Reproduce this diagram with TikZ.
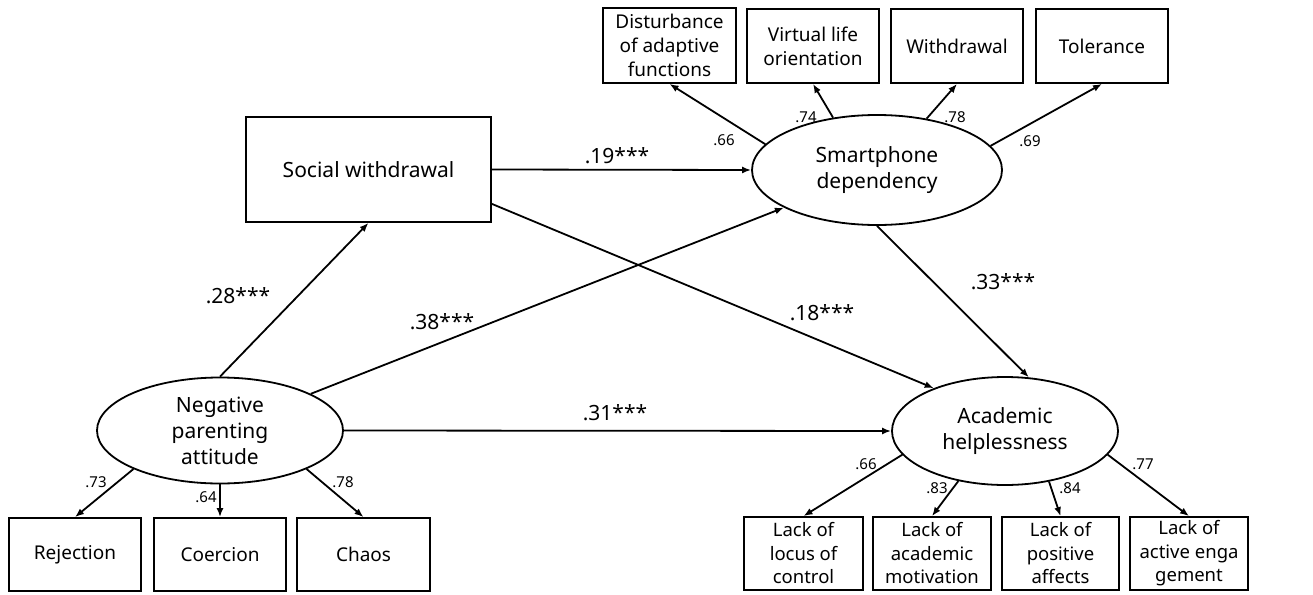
\documentclass[tikz,border=0pt]{standalone}
\usepackage{fontspec}
\setmainfont{Noto Sans}
\usetikzlibrary{arrows.meta,shapes.geometric}
\begin{document}
\begin{tikzpicture}[x=1pt,y=-1pt,
 box/.style={draw,line width=1.8pt,inner sep=0pt,align=center,font=\fontsize{19}{24}\selectfont},
 sbox/.style={box,font=\fontsize{18.5}{23.5}\selectfont},
 lat/.style={draw,ellipse,line width=1.8pt,inner sep=0pt,align=center,font=\fontsize{21}{26}\selectfont},
 arr/.style={line width=1.8pt,-{Latex[length=9pt,width=7pt]}},
 coef/.style={font=\fontsize{21}{25}\selectfont,inner sep=0pt},
 load/.style={font=\fontsize{15}{17}\selectfont,inner sep=0pt}]
\useasboundingbox[fill=white] (0,0) rectangle (1313,594);
% observed indicators, top
\node[box,minimum width=133pt,minimum height=75pt] (dis) at (669.5,45.5) {Disturbance\\of adaptive\\functions};
\node[box,minimum width=132pt,minimum height=74pt] (vir) at (813,46) {Virtual life\\orientation};
\node[box,minimum width=132pt,minimum height=74pt] (wd) at (957,46) {Withdrawal};
\node[box,minimum width=132pt,minimum height=74pt] (tol) at (1102,46) {Tolerance};
% social withdrawal
\node[box,font=\fontsize{21}{25}\selectfont,minimum width=245pt,minimum height=105pt] (sw) at (368.5,169.5) {Social withdrawal};
% latent
\node[lat,minimum width=250pt,minimum height=110pt] (sd) at (877,170) {Smartphone\\dependency};
\node[lat,minimum width=246pt,minimum height=106pt] (np) at (220,430.5) {Negative\\parenting\\attitude};
\node[lat,minimum width=226pt,minimum height=108pt] (ah) at (1005,431) {Academic\\helplessness};
% bottom left
\node[box,minimum width=132pt,minimum height=73pt] (rej) at (75,554.5) {Rejection};
\node[box,minimum width=132pt,minimum height=73pt] (coe) at (220,554.5) {Coercion};
\node[box,minimum width=133pt,minimum height=73pt] (cha) at (363.5,554.5) {Chaos};
% bottom right
\node[sbox,minimum width=119pt,minimum height=73pt] (loc) at (803.5,553.5) {Lack of\\locus of\\control};
\node[sbox,minimum width=118pt,minimum height=73pt] (acm) at (932,553.5) {Lack of\\academic\\motivation};
\node[sbox,minimum width=117pt,minimum height=73pt] (pos) at (1060.5,553.5) {Lack of\\positive\\affects};
\node[sbox,minimum width=118pt,minimum height=73pt] (act) at (1189,553.5) {Lack of\\active enga\\gement};
% structural paths
\draw[arr] (np.90) -- (sw.south);
\draw[arr] (np.22) -- (sd.202);
\draw[arr] (np.east) -- (ah.west);
\draw[arr] (sw.east) -- (sd.west);
\draw[arr] ([yshift=19pt]sw.south east) -- (ah.149);
\draw[arr] (sd.south) -- (ah.66);
% measurement paths
\draw[arr] (sd.167) -- (dis.south);
\draw[arr] (sd.130) -- (vir.south);
\draw[arr] (sd.46) -- (wd.south);
\draw[arr] (sd.12.5) -- (tol.south);
\draw[arr] (np.204) -- (rej.north);
\draw[arr] (np.south) -- (coe.north);
\draw[arr] (np.336) -- (cha.north);
\draw[arr] (ah.193) -- (loc.north);
\draw[arr] (ah.227) -- (acm.north);
\draw[arr] (ah.311) -- (pos.north);
\draw[arr] (ah.347) -- (act.north);
% coefficients
\node[coef] (c28) at (238,296) {.28***};
\node[coef] (c38) at (442,322) {.38***};
\node[coef] (c31) at (615,413) {.31***};
\node[coef] (c19) at (617,156) {.19***};
\node[coef] (c18) at (822,313) {.18***};
\node[coef] (c33) at (1003,282) {.33***};
% loadings
\node[load] (l66a) at (724,140) {.66};
\node[load] (l74) at (806,117) {.74};
\node[load] (l78a) at (955,117) {.78};
\node[load] (l69) at (1030,141) {.69};
\node[load] (l73) at (96,482) {.73};
\node[load] (l64) at (206,497) {.64};
\node[load] (l78b) at (343,482) {.78};
\node[load] (l66b) at (866,464) {.66};
\node[load] (l83) at (937,488) {.83};
\node[load] (l84) at (1070,488) {.84};
\node[load] (l77) at (1143,464) {.77};
\end{tikzpicture}
\end{document}
